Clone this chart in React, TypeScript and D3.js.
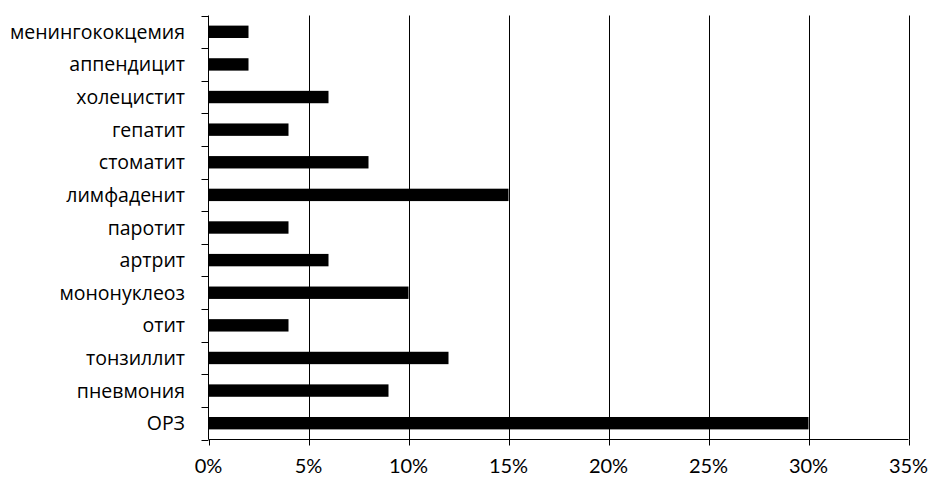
import React from "react";
import * as d3 from "d3";

const categories = [
  "менингококцемия",
  "аппендицит",
  "холецистит",
  "гепатит",
  "стоматит",
  "лимфаденит",
  "паротит",
  "артрит",
  "мононуклеоз",
  "отит",
  "тонзиллит",
  "пневмония",
  "ОРЗ",
];
const values = [2, 2, 6, 4, 8, 15, 4, 6, 10, 4, 12, 9, 30];
const xTicks = [0, 5, 10, 15, 20, 25, 30, 35];

const W = 937;
const H = 485;
const left = 208.5;
const right = 908.5;
const top = 15.5;
const bottom = 439.5;
const FONT = "Lato, 'Open Sans', sans-serif";
const LFONT = "'Open Sans', sans-serif";

export default function App() {
  const x = d3.scaleLinear().domain([0, 35]).range([left, right]);
  const y = d3.scaleBand<string>().domain(categories).range([top, bottom]).paddingInner(0.62).paddingOuter(0.31);
  const band = d3.scaleBand<string>().domain(categories).range([top, bottom]);
  const catTicks = d3.range(categories.length + 1).map((i) => top + i * band.step());

  return (
    <svg width={W} height={H} style={{ position: "absolute", left: 0, top: 0 }}>
      <rect x={0} y={0} width={W} height={H} fill="#fff" />
      {xTicks.slice(1).map((t) => (
        <line key={"g" + t} x1={Math.round(x(t)) + 0.5} x2={Math.round(x(t)) + 0.5} y1={top} y2={bottom} stroke="#000" strokeWidth={1} />
      ))}
      {categories.map((c, i) => (
        <rect key={c} x={x(0)} y={y(c)} width={x(values[i]) - x(0)} height={y.bandwidth()} fill="#000" />
      ))}
      <line x1={left} x2={left} y1={top} y2={bottom} stroke="#000" strokeWidth={1} />
      <line x1={left} x2={right} y1={bottom} y2={bottom} stroke="#000" strokeWidth={1} />
      {catTicks.map((t, i) => (
        <line key={"ct" + i} x1={left - 7} x2={left} y1={Math.round(t) + 0.5} y2={Math.round(t) + 0.5} stroke="#000" strokeWidth={1} />
      ))}
      {xTicks.map((t) => (
        <line key={"xt" + t} x1={Math.round(x(t)) + 0.5} x2={Math.round(x(t)) + 0.5} y1={bottom} y2={bottom + 6} stroke="#000" strokeWidth={1} />
      ))}
      {categories.map((c) => (
        <text key={"l" + c} x={185} y={(band(c) as number) + band.bandwidth() / 2 + 7} textAnchor="end" fontFamily={LFONT} fontSize={19.5} fill="#000">
          {c}
        </text>
      ))}
      {xTicks.map((t) => (
        <text key={"xl" + t} x={x(t)} y={473} textAnchor="middle" fontFamily={FONT} fontSize={20} fill="#000">
          {t + "%"}
        </text>
      ))}
    </svg>
  );
}
